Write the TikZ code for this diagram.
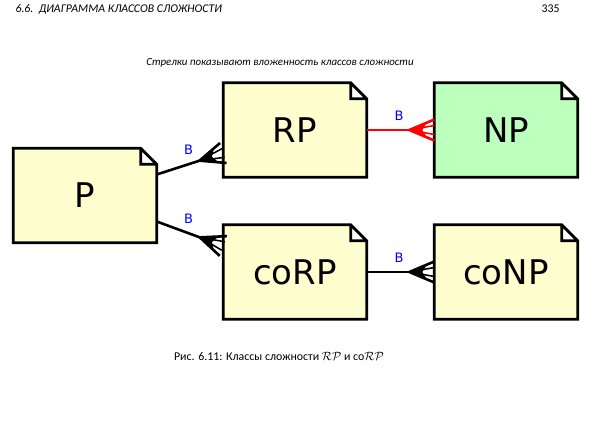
\documentclass[tikz,border=0pt]{standalone}
\usepackage{fontspec}
\setmainfont{Carlito}
\newfontfamily\dejavu{DejaVu Sans}
\usetikzlibrary{arrows.meta,backgrounds}
\definecolor{creamfill}{HTML}{FEFECE}
\definecolor{greenfill}{HTML}{BDFFBD}
\definecolor{labelblue}{HTML}{0000FF}
\definecolor{linkred}{HTML}{FF0000}
\pgfdeclarearrow{
  name = Nest,
  parameters = {},
  setup code = {
    \pgfarrowssettipend{0pt}
    \pgfarrowssetbackend{-27pt}
    \pgfarrowssetlineend{-18pt}
  },
  drawing code = {
    \pgfsetdash{}{0pt}
    \pgfsetroundjoin
    \pgfpathmoveto{\pgfpoint{0pt}{10.5pt}}
    \pgfpathlineto{\pgfpoint{-25pt}{0pt}}
    \pgfpathlineto{\pgfpoint{0pt}{-10.5pt}}
    \pgfusepathqstroke
    \pgfsetlinewidth{0.6\pgflinewidth}
    \pgfpathmoveto{\pgfpoint{0pt}{4.5pt}}
    \pgfpathlineto{\pgfpoint{-25pt}{0pt}}
    \pgfpathlineto{\pgfpoint{0pt}{-4.5pt}}
    \pgfusepathqstroke
    \pgfpathmoveto{\pgfpoint{-27pt}{0pt}}
    \pgfpathlineto{\pgfpoint{-8pt}{6.5pt}}
    \pgfpathlineto{\pgfpoint{-12pt}{0pt}}
    \pgfpathlineto{\pgfpoint{-8pt}{-6.5pt}}
    \pgfpathclose
    \pgfusepathqfill
  }
}

\begin{document}
\begin{tikzpicture}[
    x=1pt, y=-1pt,
    cls/.style={minimum width=143pt, minimum height=94pt, inner sep=0pt,
                font=\dejavu\fontsize{34}{38}\selectfont},
    outline/.style={line width=2.8pt, line join=miter},
    nest/.style={line width=2.6pt, -Nest},
    tag/.style={font=\dejavu\fontsize{13}{15}\selectfont, text=labelblue,
                inner sep=1pt, above=7pt, pos=0.48}
]
\useasboundingbox (0,0) rectangle (596,420);
\node[anchor=base west, font=\itshape\fontsize{11.8}{14}\selectfont] (head) at (12,13) {6.6.\ \ ДИАГРАММА КЛАССОВ СЛОЖНОСТИ};
\node[anchor=base east, font=\fontsize{11.8}{14}\selectfont] (page) at (563,13) {335};
\node[font=\itshape\fontsize{10.9}{13}\selectfont] (note) at (280,63) {Стрелки показывают вложенность классов сложности};

\node[cls] (p) at (85,195.5) {P};
\node[cls] (rp) at (295,130) {RP};
\node[cls] (np) at (506,130) {NP};
\node[cls] (corp) at (295,272) {coRP};
\node[cls] (conp) at (506,272) {coNP};
\begin{scope}[on background layer]
\foreach \n/\c in {p/creamfill, rp/creamfill, np/greenfill, corp/creamfill, conp/creamfill}
  \filldraw[outline, fill=\c] (\n.south west) -- (\n.north west) -- ([xshift=-16pt]\n.north east)
    -- ([yshift=-16pt]\n.north east) -- (\n.south east) -- cycle
    ([xshift=-16pt]\n.north east) |- ([yshift=-16pt]\n.north east);
\end{scope}

\draw[nest] ([yshift=21pt]p.east) -- node[tag] {В} ([yshift=-23pt]rp.west);
\draw[nest] ([yshift=-26pt]p.east) -- node[tag] {В} ([yshift=26pt]corp.west);
\draw[nest, color=linkred] (rp) -- node[tag] {В} (np);
\draw[nest] (corp) -- node[tag] {В} (conp);

\node[font=\fontsize{11.9}{14}\selectfont] (caption) at (279,356) {Рис. 6.11: Классы сложности $\mathcal{RP}$ и co$\mathcal{RP}$};
\end{tikzpicture}
\end{document}
